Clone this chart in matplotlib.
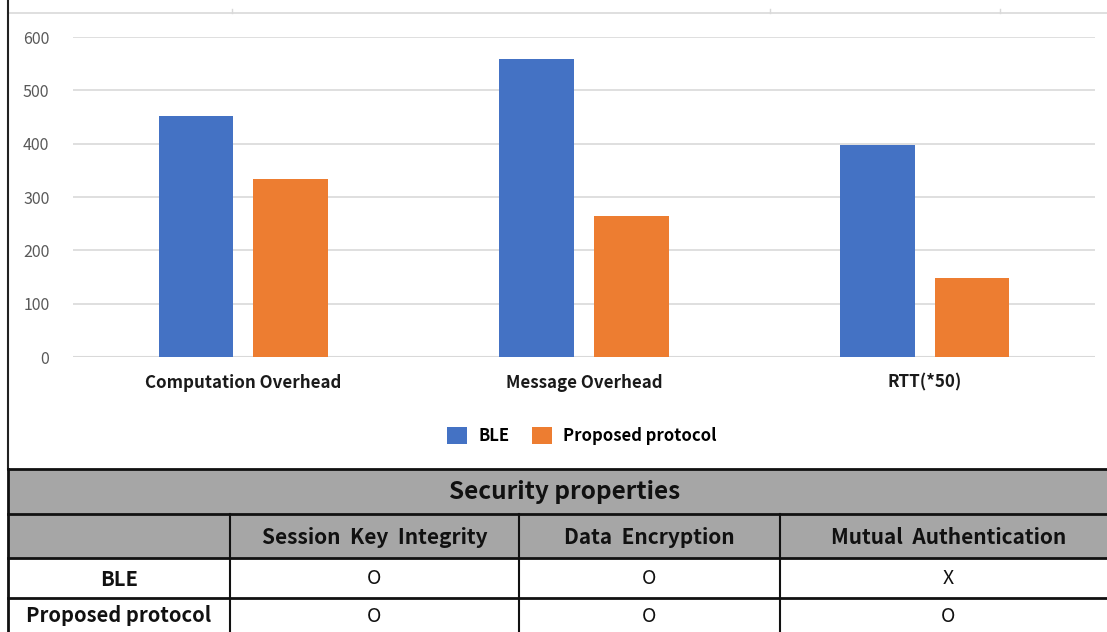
import matplotlib.pyplot as plt
import numpy as np
from matplotlib.patches import Rectangle

plt.rcParams['font.family'] = ['Noto Sans CJK KR', 'DejaVu Sans']

# ─── Data ─────────────────────────────────────────────
categories = ["Computation Overhead", "Message Overhead", "RTT(*50)"]
ble_vals = [452, 559, 398]
proposed_vals = [334, 264, 148]
series_names = ["BLE", "Proposed protocol"]
yticks = [0, 100, 200, 300, 400, 500, 600]

table_title = "Security properties"
table_cols = ["Session  Key  Integrity", "Data  Encryption", "Mutual  Authentication"]
table_rows = ["BLE", "Proposed protocol"]
table_cells = [["O", "O", "X"],
               ["O", "O", "O"]]

W, H = 1107, 632
fig = plt.figure(figsize=(W / 100, H / 100), dpi=100)
fig.patch.set_facecolor("white")

# bar axes in pixel layout
x0, x1, ytop, ybot = 73, 1095, 37, 357
ax = fig.add_axes([x0 / W, 1 - ybot / H, (x1 - x0) / W, (ybot - ytop) / H])
x = np.arange(len(categories))
w = 0.22
b1 = ax.bar(x - 0.139, ble_vals, w, color="#4472c4", label=series_names[0], zorder=3)
b2 = ax.bar(x + 0.139, proposed_vals, w, color="#ed7d31", label=series_names[1], zorder=3)
ax.set_xlim(-0.5, len(categories) - 0.5)
ax.set_ylim(0, 600)
ax.set_yticks(yticks)
ax.set_yticklabels([str(t) for t in yticks], color="#595959", fontsize=11.5)
ax.set_xticks(x)
ax.set_xticklabels(categories, fontsize=12.2, fontweight="bold", color="#1a1a1a")
ax.tick_params(axis="both", length=0)
ax.tick_params(axis="y", pad=17)
ax.tick_params(axis="x", pad=12)
ax.grid(True, axis="y", color="#d9d9d9", linewidth=1.2, zorder=0)
for s in ax.spines.values():
    s.set_visible(False)
ax.axhline(0, color="#d9d9d9", linewidth=1.5, zorder=2)
ax.legend(loc="center", bbox_to_anchor=(0.498, (ybot - 436) / (ybot - ytop)),
          ncol=2, frameon=False, handlelength=1.2, handleheight=1.2,
          columnspacing=1.3, handletextpad=0.7,
          prop={"weight": "bold", "size": 12})

# overlay axes for frame lines and table (pixel coords)
ov = fig.add_axes([0, 0, 1, 1], zorder=5)
ov.set_xlim(0, W)
ov.set_ylim(H, 0)
ov.axis("off")

# crop artefacts: top border line and left frame line
ov.plot([8, W], [13, 13], color="#d9d9d9", linewidth=1.2)
for tx in [232, 770, 1000]:
    ov.plot([tx, tx], [9, 13], color="#d9d9d9", linewidth=1)
ov.plot([8, 8], [0, 469], color="#222222", linewidth=1.5)

# table
col_x = [8, 230, 519, 780, 1107]
row_y = [469, 514, 558, 598, 640]
lc = "#111111"
ov.add_patch(Rectangle((col_x[0], row_y[0]), W - col_x[0], row_y[2] - row_y[0],
                       facecolor="#a6a6a6", edgecolor="none"))
for yy in row_y[:4]:
    ov.plot([col_x[0], W], [yy, yy], color=lc, linewidth=2)
ov.plot([col_x[0], col_x[0]], [row_y[0], H], color=lc, linewidth=2)
for cx in col_x[1:4]:
    ov.plot([cx, cx], [row_y[1], H], color=lc, linewidth=1.5)

ov.text(565, (row_y[0] + row_y[1]) / 2 + 1, table_title,
        ha="center", va="center", fontsize=17.5, fontweight="bold", color="#111111")
col_shift = [0, 0, 5]
for j, name in enumerate(table_cols):
    ov.text((col_x[j + 1] + col_x[j + 2]) / 2 + col_shift[j],
            (row_y[1] + row_y[2]) / 2 + 1, name,
            ha="center", va="center", fontsize=15, fontweight="bold", color="#111111")
for i, rname in enumerate(table_rows):
    yc = (row_y[i + 2] + min(row_y[i + 3], H)) / 2 + 1
    ov.text((col_x[0] + col_x[1]) / 2, yc, rname,
            ha="center", va="center", fontsize=14.5, fontweight="bold", color="#111111")
    for j, val in enumerate(table_cells[i]):
        ov.text((col_x[j + 1] + col_x[j + 2]) / 2 + col_shift[j], yc, val,
                ha="center", va="center", fontsize=14, color="#111111")

fig.savefig("out.png", dpi=100)
